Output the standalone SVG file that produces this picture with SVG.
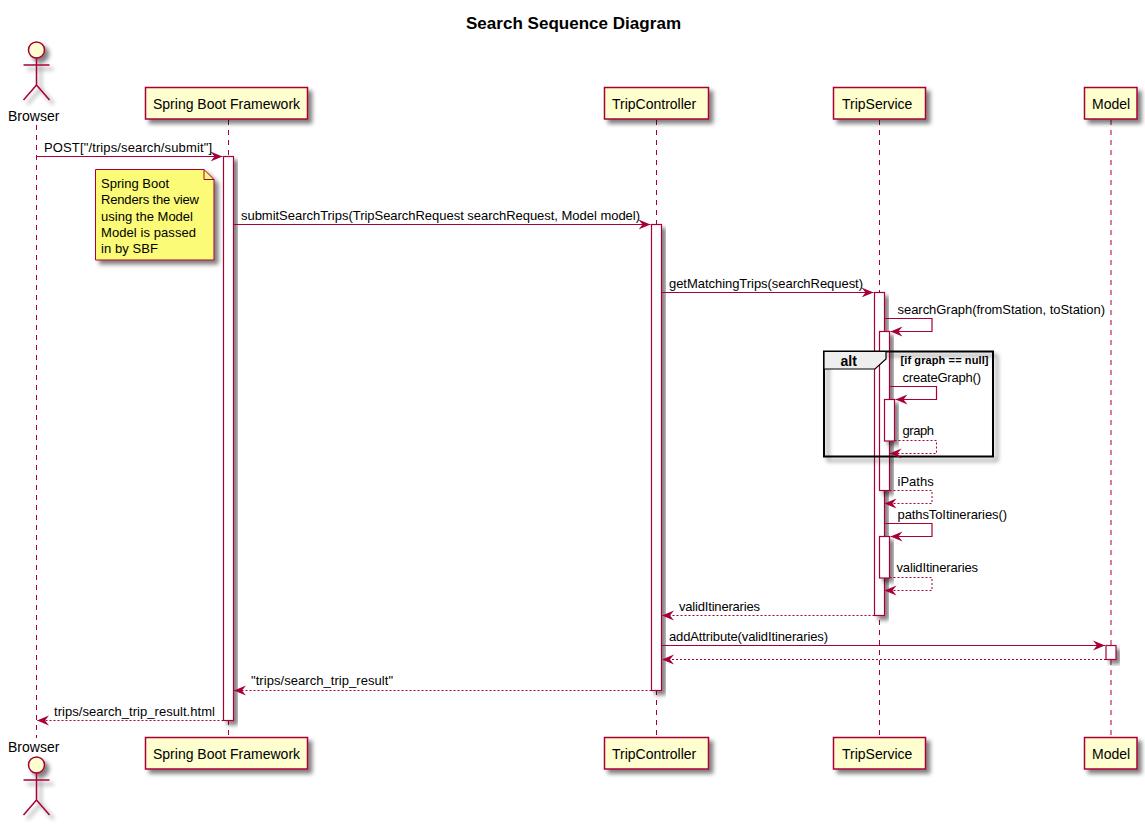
<svg xmlns="http://www.w3.org/2000/svg" width="1145" height="826" viewBox="0 0 1145 826">
<style>
text{font-family:"Liberation Sans",Arial,sans-serif;fill:#000}
.t{font-size:17px;font-weight:bold}
.n{font-size:14px}
.m{font-size:13px}
.b{fill:#FEFECE;stroke:#A80036;stroke-width:1.5}
.a{fill:#fff;stroke:#A80036;stroke-width:1.2}
.l{fill:none;stroke:#A80036;stroke-width:1;stroke-dasharray:5,5}
.s{fill:none;stroke:#A80036;stroke-width:1.2;marker-end:url(#h)}
.d{fill:none;stroke:#A80036;stroke-width:1;stroke-dasharray:2,2;marker-end:url(#h)}
.k{fill:none;stroke:#A80036;stroke-width:1.5}
</style>
<defs>
<filter id="sh" x="-30%" y="-30%" width="170%" height="170%"><feGaussianBlur in="SourceAlpha" stdDeviation="2"/><feOffset dx="4" dy="4"/><feColorMatrix values="0 0 0 0 0 0 0 0 0 0 0 0 0 0 0 0 0 0 .5 0"/><feMerge><feMergeNode/><feMergeNode in="SourceGraphic"/></feMerge></filter>
<filter id="wide" filterUnits="userSpaceOnUse" x="0" y="0" width="1145" height="826"><feGaussianBlur in="SourceAlpha" stdDeviation="2"/><feOffset dx="4" dy="4"/><feColorMatrix values="0 0 0 0 0 0 0 0 0 0 0 0 0 0 0 0 0 0 .5 0"/><feMerge><feMergeNode/><feMergeNode in="SourceGraphic"/></feMerge></filter>
<marker id="h" markerUnits="userSpaceOnUse" markerWidth="14" markerHeight="12" refX="12" refY="6" orient="auto"><path d="M0,1 L12,6 L0,11 L4,6 Z" fill="#A80036"/></marker>
</defs>
<text class="t" x="466" y="29" textLength="215" lengthAdjust="spacing">Search Sequence Diagram</text>
<g id="lifelines">
<path class="l" d="M36.5,125 V738"/>
<path class="l" d="M228.5,120 V738"/>
<path class="l" d="M656.5,120 V738"/>
<path class="l" d="M879.5,120 V738"/>
<path class="l" d="M1111,120 V738"/>
</g>
<g id="browser-top"><g filter="url(#wide)"><circle cx="36.5" cy="50" r="8" class="b"/><path class="k" d="M36.5,58 V85 M23.5,65 H49.5 M36.5,85 L23.5,100 M36.5,85 L49.5,100"/></g><text class="n" x="8" y="121">Browser</text></g>
<g id="browser-bottom"><text class="n" x="8" y="752">Browser</text><g filter="url(#wide)"><circle cx="36.5" cy="765" r="8" class="b"/><path class="k" d="M36.5,773 V800 M23.5,780 H49.5 M36.5,800 L23.5,815 M36.5,800 L49.5,815"/></g></g>
<g id="sbf-top"><rect class="b" x="145.5" y="87.5" width="162" height="31.5" filter="url(#sh)"/><text class="n" x="153" y="109">Spring Boot Framework</text></g>
<g id="sbf-bottom"><rect class="b" x="145.5" y="737.5" width="162" height="31.5" filter="url(#sh)"/><text class="n" x="153" y="759">Spring Boot Framework</text></g>
<g id="tc-top"><rect class="b" x="604.5" y="87.5" width="104" height="31.5" filter="url(#sh)"/><text class="n" x="612" y="109">TripController</text></g>
<g id="tc-bottom"><rect class="b" x="604.5" y="737.5" width="104" height="31.5" filter="url(#sh)"/><text class="n" x="612" y="759">TripController</text></g>
<g id="ts-top"><rect class="b" x="833.5" y="87.5" width="92" height="31.5" filter="url(#sh)"/><text class="n" x="842" y="109">TripService</text></g>
<g id="ts-bottom"><rect class="b" x="833.5" y="737.5" width="92" height="31.5" filter="url(#sh)"/><text class="n" x="842" y="759">TripService</text></g>
<g id="model-top"><rect class="b" x="1084.5" y="87.5" width="52.5" height="31.5" filter="url(#sh)"/><text class="n" x="1092" y="109">Model</text></g>
<g id="model-bottom"><rect class="b" x="1084.5" y="737.5" width="52.5" height="31.5" filter="url(#sh)"/><text class="n" x="1092" y="759">Model</text></g>
<g id="activations">
<rect class="a" x="223.5" y="156.5" width="10" height="564" filter="url(#sh)"/>
<rect class="a" x="651.5" y="224.5" width="10" height="466" filter="url(#sh)"/>
<rect class="a" x="874.5" y="292.5" width="10" height="323" filter="url(#sh)"/>
<rect class="a" x="879.5" y="331.5" width="10" height="159" filter="url(#sh)"/>
<rect class="a" x="884.5" y="399.5" width="10" height="41.5" filter="url(#sh)"/>
<rect class="a" x="879.5" y="536.5" width="10" height="41.5" filter="url(#sh)"/>
<rect class="a" x="1106" y="645.5" width="10" height="14" filter="url(#sh)"/>
</g>
<g id="note"><path d="M95.5,169.5 H204 L214,179.5 V260 H95.5 Z" fill="#FBFB77" stroke="#A80036" stroke-width="1" filter="url(#sh)"/><path d="M204,169.5 V179.5 H214" fill="none" stroke="#A80036" stroke-width="1"/>
<text class="m" x="101" y="188" textLength="68" lengthAdjust="spacing">Spring Boot</text><text class="m" x="101" y="204" textLength="98" lengthAdjust="spacing">Renders the view</text><text class="m" x="101" y="221" textLength="92" lengthAdjust="spacing">using the Model</text><text class="m" x="101" y="237" textLength="95" lengthAdjust="spacing">Model is passed</text><text class="m" x="101" y="253" textLength="57" lengthAdjust="spacing">in by SBF</text></g>
<g id="alt"><rect x="824" y="351.5" width="169" height="105" fill="none" stroke="#000" stroke-width="2" filter="url(#wide)"/><path d="M824,351.5 H886 V359 L875,369 H824 Z" fill="#EEE" stroke="#000" stroke-width="1.2"/><text x="840.5" y="366" font-size="14" font-weight="bold">alt</text><text x="900.5" y="364" font-size="11" font-weight="bold" textLength="88" lengthAdjust="spacing">[if graph == null]</text></g>
<g id="connectors">
<path class="s" d="M36.5,156.5 H222.5"/>
<path class="s" d="M233.5,224.5 H650.5"/>
<path class="s" d="M661.5,292.5 H873.5"/>
<path class="s" d="M884.5,318.5 H932 V331.5 H890.5"/>
<path class="s" d="M889.5,386.5 H936.5 V399.5 H895.5"/>
<path class="d" d="M894.5,440.5 H936.5 V453.5 H889.5"/>
<path class="d" d="M889.5,490.5 H932 V503.5 H884.5"/>
<path class="s" d="M884.5,523.5 H932 V536.5 H890.5"/>
<path class="d" d="M889.5,577.5 H932 V590.5 H884.5"/>
<path class="d" d="M874.5,615.5 H662"/>
<path class="s" d="M661.5,645.5 H1105"/>
<path class="d" d="M1106,659.5 H662"/>
<path class="d" d="M651.5,690.5 H234"/>
<path class="d" d="M223.5,720.5 H37"/>
</g>
<g id="labels">
<text class="m" x="44" y="152" textLength="168" lengthAdjust="spacing">POST["/trips/search/submit"]</text>
<text class="m" x="241" y="220" textLength="399" lengthAdjust="spacing">submitSearchTrips(TripSearchRequest searchRequest, Model model)</text>
<text class="m" x="669" y="288" textLength="194" lengthAdjust="spacing">getMatchingTrips(searchRequest)</text>
<text class="m" x="897.5" y="314" textLength="207.5" lengthAdjust="spacing">searchGraph(fromStation, toStation)</text>
<text class="m" x="902.5" y="382" textLength="78.5" lengthAdjust="spacing">createGraph()</text>
<text class="m" x="902.5" y="435" textLength="31.5" lengthAdjust="spacing">graph</text>
<text class="m" x="897.5" y="486">iPaths</text>
<text class="m" x="897.5" y="519" textLength="109.5" lengthAdjust="spacing">pathsToItineraries()</text>
<text class="m" x="896.5" y="572" textLength="81.5" lengthAdjust="spacing">validItineraries</text>
<text class="m" x="679" y="611" textLength="81" lengthAdjust="spacing">validItineraries</text>
<text class="m" x="669" y="641" textLength="159" lengthAdjust="spacing">addAttribute(validItineraries)</text>
<text class="m" x="251" y="685" textLength="142" lengthAdjust="spacing">"trips/search_trip_result"</text>
<text class="m" x="54" y="716" textLength="161" lengthAdjust="spacing">trips/search_trip_result.html</text>
</g>
</svg>
